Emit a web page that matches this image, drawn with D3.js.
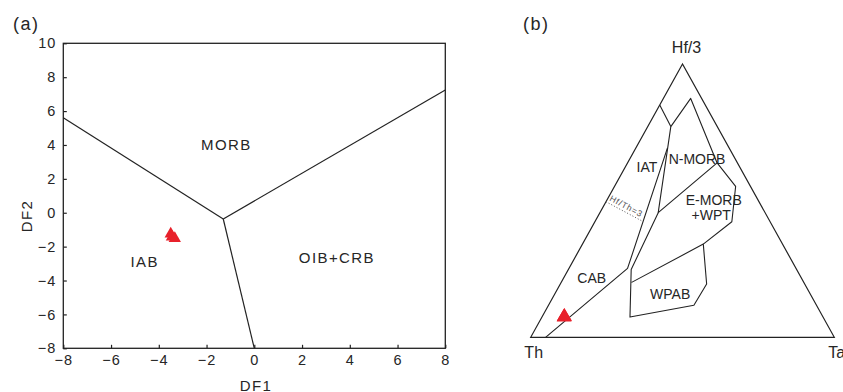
<!DOCTYPE html>
<html>
<head>
<meta charset="utf-8">
<script src="https://cdn.jsdelivr.net/npm/d3@7"></script>
<style>
  body { margin: 0; background: #fff; }
  svg { display: block; }
  text { font-family: "Liberation Sans", Arial, sans-serif; fill: #262626; }
</style>
</head>
<body>
<script>
'use strict';

// ---- (a) DF1 vs DF2 discrimination plot ----
const df1Ticks = [-8, -6, -4, -2, 0, 2, 4, 6, 8];
const df2Ticks = [-8, -6, -4, -2, 0, 2, 4, 6, 8, 10];
const dfCenter = [-1.3, -0.37];                       // where the 3 boundaries meet
const dfBoundaryEnds = [[-8, 5.6], [8, 7.25], [0, -8]];
const dfFieldNames = ["MORB", "IAB", "OIB+CRB"];
const dfFieldX = [-1.17, -4.59, 3.46];
const dfFieldY = [3.71, -3.2, -2.95];
const sampleDF1 = [-3.50, -3.45, -3.33];
const sampleDF2 = [-1.25, -1.43, -1.52];

// ---- (b) Hf/3 - Th - Ta ternary, points as [Hf/3, Th, Ta] in % ----
const ternCorners = ["Hf/3", "Th", "Ta"];
const ternBoundaries = [
  [[0, 95.1, 4.9], [25.2, 55.5, 19.3], [69.3, 20.3, 10.4]],
  [[85, 15, 0], [77.1, 15.3, 7.6], [87.4, 3.6, 9.0], [63.8, 6.7, 29.5]],
  [[77.1, 15.3, 7.6], [45.6, 35.2, 19.2], [63.8, 6.7, 29.5], [55.2, 4.9, 39.9],
   [42.3, 12.6, 45.1], [34.1, 26.1, 39.8]],
  [[45.6, 35.2, 19.2], [24.8, 54.5, 20.7], [7.4, 63.6, 29.0], [11.7, 40.4, 47.9],
   [19.5, 32.3, 48.2], [34.1, 26.1, 39.8], [20.1, 56.7, 23.2]]
];
const hfThLine = [[49.6, 50.4, 0], [42.5, 42, 15.5]];
const ternFieldNames = ["IAT", "N-MORB", "E-MORB", "+WPT", "CAB", "WPAB"];
const ternFieldPos = [[60.6, 31.3, 8.0], [63.4, 13.5, 23.1], [48.4, 15.5, 36.1],
  [42.9, 19.1, 38.0], [19.8, 70.0, 10.2], [13.9, 47.1, 39.0]];
const sampleHf3 = [7.5, 7.4, 7.6];
const sampleTh = [85.2, 85.3, 85.1];
const sampleTa = [7.3, 7.3, 7.3];

(function() {

  let svgContainer = "";
  const red = "#e8212b";
  const ink = "#222";

  window.onload = function() {
    svgContainer = d3.select('body')
      .append('svg')
      .attr('width', 843)
      .attr('height', 392);

    drawDFPlot();
    drawTernary();
  }

  // left panel
  function drawDFPlot() {
    let xScale = d3.scaleLinear().domain([-8, 8]).range([63.3, 445.3]);
    let yScale = d3.scaleLinear().domain([-8, 10]).range([348.3, 43.3]);

    // inward ticks on bottom and left only
    let xAxis = d3.axisBottom(xScale).tickValues(df1Ticks)
      .tickSizeInner(-3.5).tickSizeOuter(0).tickPadding(6.5);
    let gx = svgContainer.append('g')
      .attr('transform', 'translate(0, 348.3)')
      .call(xAxis);

    let yAxis = d3.axisLeft(yScale).tickValues(df2Ticks)
      .tickSizeInner(-3.5).tickSizeOuter(0).tickPadding(7);
    let gy = svgContainer.append('g')
      .attr('transform', 'translate(63.3, 0)')
      .call(yAxis);

    [gx, gy].forEach(function(g) {
      g.select('.domain').remove();
      g.selectAll('line').attr('stroke', ink).attr('stroke-width', 1.2);
      g.selectAll('text')
        .attr('fill', '#262626')
        .style('font-size', '14.5px')
        .style('letter-spacing', '1px')
        .style('font-family', '"Liberation Sans", Arial, sans-serif');
    });

    // frame
    svgContainer.append('rect')
      .attr('x', xScale(-8))
      .attr('y', yScale(10))
      .attr('width', xScale(8) - xScale(-8))
      .attr('height', yScale(-8) - yScale(10))
      .attr('fill', 'none')
      .attr('stroke', ink)
      .attr('stroke-width', 1.3);

    // field boundaries
    let line = d3.line().x(d => xScale(d[0])).y(d => yScale(d[1]));
    svgContainer.selectAll('.dfline')
      .data(dfBoundaryEnds)
      .enter()
      .append('path')
        .attr('d', d => line([dfCenter, d]))
        .attr('fill', 'none')
        .attr('stroke', ink)
        .attr('stroke-width', 1.2);

    svgContainer.selectAll('.dflabel')
      .data(dfFieldNames)
      .enter()
      .append('text')
        .attr('x', (d, i) => xScale(dfFieldX[i]))
        .attr('y', (d, i) => yScale(dfFieldY[i]))
        .attr('text-anchor', 'middle')
        .style('font-size', '15px')
        .style('letter-spacing', '1.4px')
        .text(d => d);

    // samples
    let tri = d3.symbol().type(d3.symbolTriangle).size(66);
    svgContainer.selectAll('.dfdot')
      .data(sampleDF1)
      .enter()
      .append('path')
        .attr('d', tri)
        .attr('transform', (d, i) => 'translate(' + xScale(d) + ',' + yScale(sampleDF2[i]) + ')')
        .attr('fill', red);

    // axis titles and panel letter
    svgContainer.append('text')
      .attr('x', 256)
      .attr('y', 391)
      .attr('text-anchor', 'middle')
      .style('font-size', '15px')
      .style('letter-spacing', '1.4px')
      .text('DF1');

    svgContainer.append('text')
      .attr('transform', 'translate(31.5, 216)rotate(-90)')
      .attr('text-anchor', 'middle')
      .style('font-size', '15px')
      .style('letter-spacing', '1.4px')
      .text('DF2');

    svgContainer.append('text')
      .attr('x', 13)
      .attr('y', 29.5)
      .style('font-size', '18px')
      .style('letter-spacing', '1.5px')
      .text('(a)');
  }

  // right panel
  function drawTernary() {
    // horizontal position from (Ta + Hf/3 / 2), vertical from Hf/3
    let tx = d3.scaleLinear().domain([0, 100]).range([530.7, 834.3]);
    let ty = d3.scaleLinear().domain([0, 100]).range([337.3, 64]);
    let px = d => tx(d[2] + d[0] / 2);
    let py = d => ty(d[0]);
    let line = d3.line().x(px).y(py);

    let corners = [[100, 0, 0], [0, 100, 0], [0, 0, 100]];
    svgContainer.append('path')
      .attr('d', line(corners) + 'Z')
      .attr('fill', 'none')
      .attr('stroke', ink)
      .attr('stroke-width', 1.2);

    svgContainer.selectAll('.tline')
      .data(ternBoundaries)
      .enter()
      .append('path')
        .attr('d', d => line(d))
        .attr('fill', 'none')
        .attr('stroke', ink)
        .attr('stroke-width', 1.1)
        .attr('stroke-linejoin', 'round');

    // Hf/Th = 3 dotted divider with its small label
    svgContainer.append('path')
      .attr('d', line(hfThLine))
      .attr('fill', 'none')
      .attr('stroke', '#555')
      .attr('stroke-width', 1)
      .attr('stroke-dasharray', '1,2');

    let a = hfThLine[0], b = hfThLine[1];
    let ang = Math.atan2(py(b) - py(a), px(b) - px(a)) * 180 / Math.PI;
    svgContainer.append('text')
      .attr('transform', 'translate(' + (px(a) + 3) + ',' + (py(a) - 1.5) + ')rotate(' + ang + ')')
      .style('font-size', '8.5px')
      .style('letter-spacing', '0.8px')
      .style('fill', '#555')
      .text('Hf/Th=3');

    svgContainer.selectAll('.tlabel')
      .data(ternFieldNames)
      .enter()
      .append('text')
        .attr('x', (d, i) => px(ternFieldPos[i]))
        .attr('y', (d, i) => py(ternFieldPos[i]))
        .attr('text-anchor', 'middle')
        .style('font-size', '14px')
        .text(d => d);

    // corner names
    let cornerOffsets = [[4, -11, 'middle'], [3, 21, 'middle'], [-6, 21, 'start']];
    svgContainer.selectAll('.corner')
      .data(ternCorners)
      .enter()
      .append('text')
        .attr('x', (d, i) => px(corners[i]) + cornerOffsets[i][0])
        .attr('y', (d, i) => py(corners[i]) + cornerOffsets[i][1])
        .attr('text-anchor', (d, i) => cornerOffsets[i][2])
        .style('font-size', '16px')
        .text(d => d);

    let tri = d3.symbol().type(d3.symbolTriangle).size(97);
    svgContainer.selectAll('.tdot')
      .data(sampleHf3)
      .enter()
      .append('path')
        .attr('d', tri)
        .attr('transform', (d, i) => {
          let p = [d, sampleTh[i], sampleTa[i]];
          return 'translate(' + px(p) + ',' + py(p) + ')';
        })
        .attr('fill', red);

    svgContainer.append('text')
      .attr('x', 523)
      .attr('y', 29.5)
      .style('font-size', '18px')
      .style('letter-spacing', '1.5px')
      .text('(b)');
  }

})();
</script>
</body>
</html>
